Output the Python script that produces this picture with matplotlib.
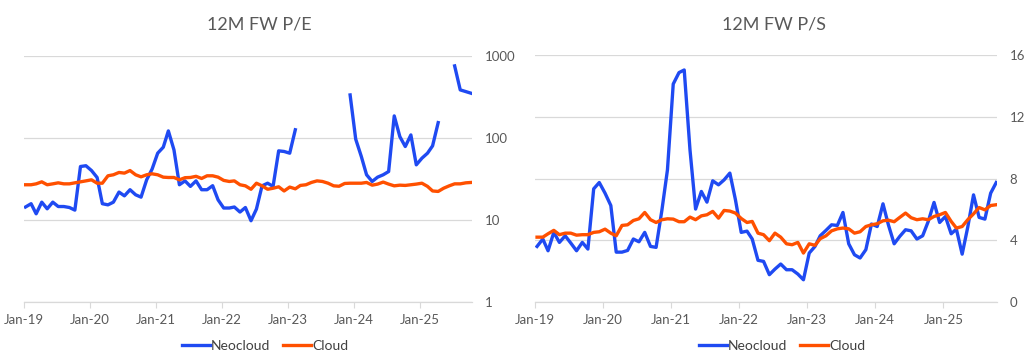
import numpy as np
import pandas as pd
import matplotlib
matplotlib.use("Agg")
import matplotlib.pyplot as plt
import matplotlib.dates as mdates
from matplotlib.ticker import FixedLocator, FixedFormatter

plt.rcParams["font.family"] = ["Lato", "DejaVu Sans"]

nan = np.nan

# monthly observations, Jan-19 .. Oct-25
dates = pd.date_range("2019-01-01", periods=82, freq="MS") + pd.Timedelta(days=11)

pe_neocloud = [
    14.4, 15.8, 11.9, 16.5, 13.7, 16.5, 14.6, 14.6, 14.2, 13.2,
    44.9, 45.9, 40.1, 33, 15.8, 15.3, 16.5, 21.9, 19.7, 23.4,
    20.3, 19.0, 30.9, 41.7, 65.3, 77.3, 122, 71.6, 26.9, 30,
    25.7, 30, 23.4, 23.4, 26.2, 17.6, 14, 14, 14.4, 12.5,
    14.2, 9.8, 13.6, 26.1, 28.1, 25.7, 69.7, 68.5, 65.3, 126,
    nan, nan, nan, nan, nan, nan, nan, nan, nan,
    335, 96.7, 59.5, 35.6, 29.5, 33.3, 35.6, 39, 186, 104, 78.7,
    109, 47.1, 56.7, 65.3, 80.2, 154,
    nan, nan,
    757, 386, 368, 351,
]
pe_cloud = [
    26.9, 26.9, 27.6, 29.2, 26.9, 27.6, 28.4, 27.6, 27.6, 28.4,
    29.2, 30, 30.9, 28.1, 28.1, 34.6, 35.6, 38, 37.3, 40.1,
    35.6, 33.6, 35.6, 36.6, 35.6, 33.3, 33, 33, 30.9, 32.8,
    33, 34.1, 32.1, 34.6, 34.6, 33.3, 30.4, 29.5, 30, 26.9,
    26.1, 23.7, 28.1, 26.1, 23.7, 24.4, 25.4, 22.6, 25.2, 24,
    26.4, 26.9, 28.7, 30, 29.5, 28.1, 26.1, 25.8, 27.9, 28.1,
    28.1, 28.1, 28.7, 26.6, 27.4, 29, 27.4, 26.1, 26.6, 26.4,
    26.9, 27.4, 28.1, 25.7, 22.6, 22.3, 24.4, 26.1, 27.6, 27.6,
    28.4, 28.7,
]
ps_neocloud = [
    3.6, 4.08, 3.32, 4.51, 3.86, 4.29, 3.82, 3.32, 3.86, 3.43,
    7.33, 7.74, 7.05, 6.25, 3.23, 3.23, 3.34, 4.08, 3.9, 4.51,
    3.6, 3.54, 5.93, 8.56, 14.12, 14.86, 15.03, 9.85, 6.02, 7.16,
    6.47, 7.85, 7.59, 7.91, 8.35, 6.62, 4.51, 4.59, 4.08, 2.7,
    2.63, 1.77, 2.13, 2.46, 2.09, 2.09, 1.81, 1.44, 3.17, 3.6,
    4.29, 4.64, 5.0, 4.96, 5.8, 3.77, 3.06, 2.85, 3.39, 5.05,
    4.89, 6.36, 5.0, 3.77, 4.25, 4.68, 4.61, 4.08, 4.29, 5.22,
    6.45, 5.15, 5.54, 4.42, 4.72, 3.1, 4.85, 6.94, 5.48, 5.37,
    7.05, 7.74,
]
ps_cloud = [
    4.2, 4.2, 4.42, 4.64, 4.36, 4.46, 4.46, 4.33, 4.36, 4.36,
    4.51, 4.55, 4.72, 4.46, 4.29, 4.96, 5.0, 5.28, 5.39, 5.8,
    5.33, 5.15, 5.33, 5.39, 5.37, 5.2, 5.2, 5.5, 5.33, 5.58,
    5.65, 5.87, 5.43, 5.93, 5.89, 5.76, 5.41, 5.15, 5.22, 4.46,
    4.36, 3.97, 4.46, 4.2, 3.77, 3.71, 3.86, 3.17, 3.77, 3.67,
    4.1, 4.29, 4.61, 4.74, 4.79, 4.74, 4.46, 4.55, 4.89, 5.0,
    5.07, 5.26, 5.3, 5.2, 5.48, 5.76, 5.46, 5.33, 5.39, 5.33,
    5.54, 5.65, 5.8, 5.22, 4.79, 4.89, 5.33, 5.71, 6.12, 5.97,
    6.25, 6.3,
]

pe_ticks = [1, 10, 100, 1000]
ps_ticks = [0, 4, 8, 12, 16]
series_names = ["Neocloud", "Cloud"]

BLUE = "#1f4af2"
ORANGE = "#ff5000"
GRID = "#d9d9d9"
TXT = "#595959"

W, H = 1032, 358
fig = plt.figure(figsize=(W / 100, H / 100), dpi=100)


def px_box(x0, x1, y_top, y_bot):
    return [x0 / W, 1 - y_bot / H, (x1 - x0) / W, (y_bot - y_top) / H]


def style_axis(ax):
    for s in ["top", "left", "right"]:
        ax.spines[s].set_visible(False)
    ax.spines["bottom"].set_color(GRID)
    ax.spines["bottom"].set_linewidth(0.9)
    ax.grid(axis="y", color=GRID, linewidth=0.9)
    ax.set_axisbelow(True)
    ax.yaxis.tick_right()
    ax.tick_params(axis="y", length=0, pad=9, labelsize=9.5, labelcolor=TXT)
    ax.tick_params(axis="x", length=4, width=0.8, color=GRID, pad=4.5,
                   labelsize=9.5, labelcolor=TXT)
    ax.xaxis.set_major_locator(mdates.YearLocator())
    ax.xaxis.set_major_formatter(mdates.DateFormatter("%b-%y"))
    ax.set_xlim(pd.Timestamp("2019-01-01"), pd.Timestamp("2025-10-16"))


# left: P/E, log scale
ax1 = fig.add_axes(px_box(23.5, 472, 56, 302))
ax1.plot(dates, pe_neocloud, color=BLUE, lw=2.4, solid_joinstyle="round")
ax1.plot(dates, pe_cloud, color=ORANGE, lw=2.4, solid_joinstyle="round")
ax1.set_yscale("log")
ax1.set_ylim(1, 1000)
ax1.yaxis.set_major_locator(FixedLocator(pe_ticks))
ax1.yaxis.set_major_formatter(FixedFormatter([str(t) for t in pe_ticks]))
ax1.yaxis.set_minor_locator(FixedLocator([]))
style_axis(ax1)

# right: P/S, linear
ax2 = fig.add_axes(px_box(535, 997, 55, 302))
ax2.plot(dates, ps_neocloud, color=BLUE, lw=2.4, solid_joinstyle="round")
ax2.plot(dates, ps_cloud, color=ORANGE, lw=2.4, solid_joinstyle="round")
ax2.set_ylim(0, 16)
ax2.set_yticks(ps_ticks)
style_axis(ax2)

fig.text(259 / W, 1 - 24 / H, "12M FW P/E", ha="center", va="center",
         fontsize=13, color=TXT)
fig.text(774 / W, 1 - 24 / H, "12M FW P/S", ha="center", va="center",
         fontsize=13, color=TXT)

for ax, cx in [(ax1, 265), (ax2, 782)]:
    ax.legend(ax.get_lines(), series_names, loc="center",
              bbox_to_anchor=(cx / W, 1 - 346 / H),
              bbox_transform=fig.transFigure, ncol=2, frameon=False,
              fontsize=10, handlelength=2.0, handletextpad=0.1,
              columnspacing=0.9, labelcolor="#404040")

fig.savefig("out.png", dpi=100)
